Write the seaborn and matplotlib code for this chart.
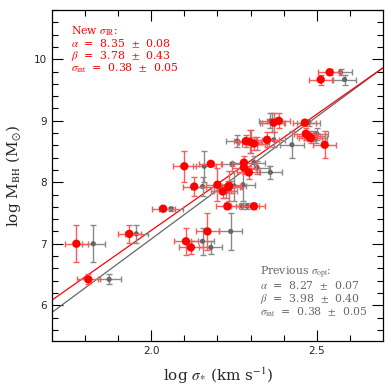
import numpy as np
import pandas as pd
import matplotlib
matplotlib.use('Agg')
import matplotlib.pyplot as plt
import seaborn as sns

# masas (log M_BH) e dispersoes
log_mbh = [9.79, 9.67, 8.97, 8.79, 8.75, 8.72, 8.61, 9.00, 8.97, 8.67,
           8.66, 8.63, 8.69, 8.30, 8.32, 8.24, 8.16, 8.26, 7.93, 7.85,
           7.92, 7.94, 7.96, 7.61, 7.61, 7.57, 7.20, 7.04, 6.94, 7.00,
           6.42, 7.16]
mbh_err = [0.05, 0.08, 0.05, 0.10, 0.08, 0.08, 0.22, 0.12, 0.15, 0.10,
           0.19, 0.10, 0.12, 0.03, 0.10, 0.10, 0.10, 0.25, 0.15, 0.10,
           0.10, 0.24, 0.27, 0.05, 0.05, 0.03, 0.30, 0.22, 0.10, 0.30,
           0.08, 0.15]
sig_ir = [2.539, 2.512, 2.464, 2.467, 2.476, 2.482, 2.524, 2.385, 2.370, 2.286,
          2.297, 2.310, 2.350, 2.180, 2.280, 2.280, 2.295, 2.100, 2.130, 2.216,
          2.233, 2.235, 2.200, 2.230, 2.310, 2.036, 2.170, 2.105, 2.120, 1.774,
          1.810, 1.934]
sig_opt = [2.572, 2.584, 2.476, 2.500, 2.490, 2.497, 2.425, 2.360, 2.365, 2.260,
           2.300, 2.320, 2.370, 2.245, 2.310, 2.320, 2.360, 2.160, 2.155, 2.225,
           2.240, 2.250, 2.277, 2.275, 2.290, 2.060, 2.240, 2.155, 2.180, 1.825,
           1.873, 1.955]
sig_err = [0.035] * len(log_mbh)

# ajustes
alpha_ir, beta_ir = 8.35, 3.78
alpha_opt, beta_opt = 8.27, 3.98
x_fit = [1.7, 2.7]

red_lines = [r'New $\sigma_{\rm IR}$:', r'$\alpha$  =  8.35  $\pm$  0.08',
             r'$\beta$  =  3.78  $\pm$  0.43', r'$\sigma_{\rm int}$  =  0.38  $\pm$  0.05']
gray_lines = [r'Previous $\sigma_{\rm opt}$:', r'$\alpha$  =  8.27  $\pm$  0.07',
              r'$\beta$  =  3.98  $\pm$  0.40', r'$\sigma_{\rm int}$  =  0.38  $\pm$  0.05']

df = pd.DataFrame({'mbh': log_mbh, 'mbh_err': mbh_err, 'ir': sig_ir,
                   'opt': sig_opt, 'serr': sig_err})

sns.set_style('ticks')
plt.rcParams['font.family'] = ['DejaVu Sans']
plt.rcParams['mathtext.fontset'] = 'stix'

fig = plt.figure(figsize=(3.9, 3.9), dpi=100)
ax = fig.add_axes([0.133, 0.126, 0.849, 0.848])

fit = pd.DataFrame({'x': x_fit,
                    'ir': [alpha_ir + beta_ir * (x - 2.3) for x in x_fit],
                    'opt': [alpha_opt + beta_opt * (x - 2.3) for x in x_fit]})
sns.lineplot(data=fit, x='x', y='opt', color='#666666', lw=0.9, ax=ax, zorder=1)
sns.lineplot(data=fit, x='x', y='ir', color='red', lw=0.9, ax=ax, zorder=1)

# anterior (optico)
ax.errorbar(df['opt'], df['mbh'], xerr=df['serr'], yerr=df['mbh_err'], fmt='none',
            ecolor='#8a8a8a', elinewidth=1.0, capsize=2, capthick=1.0, zorder=2)
sns.scatterplot(data=df, x='opt', y='mbh', color='#666666', s=14, edgecolor='none',
                ax=ax, zorder=3)

# novo (IR)
ax.errorbar(df['ir'], df['mbh'], xerr=df['serr'], yerr=df['mbh_err'], fmt='none',
            ecolor='#ff5a5a', elinewidth=1.0, capsize=2, capthick=1.0, zorder=4)
sns.scatterplot(data=df, x='ir', y='mbh', color='red', s=36, edgecolor='none',
                ax=ax, zorder=5)

ax.set_xlim(1.7, 2.7)
ax.set_ylim(5.42, 10.77)
ax.set_xticks([2.0, 2.5])
ax.set_xticks(np.arange(1.8, 2.7, 0.1), minor=True)
ax.set_yticks([6, 7, 8, 9, 10])
ax.set_yticks(np.arange(5.6, 10.8, 0.2), minor=True)
ax.tick_params(which='both', direction='in', top=True, right=True, labelsize=7.5,
               width=0.8, color='black')
ax.tick_params(which='major', length=8)
ax.tick_params(which='minor', length=4)
for s in ax.spines.values():
    s.set_linewidth(0.9)
    s.set_color('black')

serif = ['DejaVu Serif']
ax.set_xlabel(r'log $\sigma_{*}$ (km s$^{-1}$)', fontsize=11, family=serif, labelpad=7)
ax.set_ylabel(r'log M$_{\rm BH}$ (M$_{\odot}$)', fontsize=11, family=serif, labelpad=8)

for i, t in enumerate(red_lines):
    ax.text(0.058, 0.937 - i * 0.038, t, transform=ax.transAxes, ha='left',
            va='center', color='red', fontsize=7.8, family=serif)
for i, t in enumerate(gray_lines):
    ax.text(0.63, 0.205 - i * 0.039, t, transform=ax.transAxes, ha='left',
            va='center', color='#666666', fontsize=7.8, family=serif)

fig.savefig('out.png', dpi=100)
